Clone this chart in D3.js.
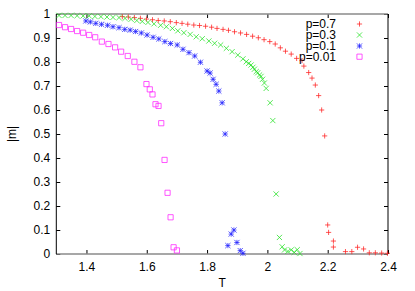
<!DOCTYPE html>
<html>
<head>
<meta charset="utf-8" />
<title>|m| vs T</title>
<style>
html, body {
  margin: 0;
  padding: 0;
  background-color: #FFFFFF;
}
svg text {
  font-family: "Liberation Sans", Arial, sans-serif;
  font-size: 12px;
}
</style>
<script src="https://d3js.org/d3.v7.min.js"></script>
</head>
<body>
<script>

// data: T, |m| for each p
var seriesNames = ["p=0.7", "p=0.3", "p=0.1", "p=0.01"];

var T_p07 = [1.519,1.539,1.559,1.579,1.599,1.619,1.638,1.658,1.678,1.698,1.717,1.736,1.756,1.775,1.795,1.815,1.833,1.853,1.871,1.891,1.911,1.931,1.951,1.970,1.989,2.008,2.026,2.043,2.060,2.079,2.097,2.115,2.121,2.137,2.148,2.159,2.170,2.180,2.190,2.200,2.203,2.219,2.219,2.259,2.280,2.299,2.319,2.338,2.358,2.379,2.398];
var m_p07 = [0.989,0.9875,0.985,0.982,0.979,0.976,0.973,0.971,0.968,0.964,0.961,0.9575,0.954,0.952,0.949,0.945,0.940,0.936,0.932,0.926,0.921,0.915,0.9075,0.901,0.893,0.885,0.875,0.859,0.845,0.833,0.815,0.806,0.783,0.756,0.733,0.704,0.660,0.600,0.492,0.121,0.090,0.054,0.029,0.010,0.010,0.028,0.021,0.005,0.005,0.004,0.003];

var T_p03 = [1.309,1.329,1.349,1.369,1.389,1.409,1.428,1.448,1.468,1.488,1.508,1.528,1.548,1.567,1.585,1.604,1.624,1.646,1.665,1.685,1.703,1.723,1.744,1.764,1.784,1.806,1.825,1.845,1.864,1.883,1.902,1.919,1.930,1.938,1.946,1.952,1.957,1.963,1.968,1.974,1.979,1.984,1.990,1.996,2.009,2.018,2.029,2.040,2.049,2.057,2.068,2.079,2.089,2.099,2.108];
var m_p03 = [0.994,0.994,0.994,0.993,0.992,0.992,0.990,0.989,0.9875,0.986,0.985,0.982,0.978,0.973,0.969,0.965,0.959,0.953,0.947,0.940,0.930,0.922,0.915,0.905,0.897,0.8875,0.878,0.871,0.857,0.843,0.829,0.813,0.801,0.794,0.7875,0.778,0.770,0.760,0.755,0.746,0.740,0.728,0.7125,0.690,0.630,0.556,0.250,0.069,0.030,0.017,0.011,0.017,0.007,0.018,0.002];

var T_p01 = [1.398,1.413,1.431,1.450,1.470,1.488,1.508,1.527,1.545,1.563,1.582,1.601,1.621,1.640,1.660,1.679,1.701,1.720,1.740,1.759,1.778,1.800,1.810,1.820,1.830,1.839,1.850,1.860,1.869,1.880,1.889,1.899,1.910,1.919];
var m_p01 = [0.971,0.967,0.961,0.957,0.953,0.947,0.943,0.936,0.933,0.927,0.921,0.9125,0.903,0.896,0.885,0.877,0.871,0.853,0.839,0.825,0.799,0.7625,0.754,0.728,0.707,0.679,0.630,0.500,0.035,0.083,0.100,0.048,0.014,0.003];

var T_p001 = [1.309,1.329,1.349,1.369,1.389,1.409,1.429,1.451,1.473,1.495,1.515,1.537,1.559,1.579,1.599,1.610,1.619,1.629,1.639,1.648,1.659,1.669,1.679,1.689,1.700];
var m_p001 = [0.954,0.945,0.9375,0.929,0.922,0.9125,0.903,0.885,0.875,0.861,0.843,0.825,0.801,0.778,0.708,0.686,0.665,0.624,0.617,0.545,0.392,0.255,0.153,0.028,0.015];

var xTicks = [1.4, 1.6, 1.8, 2.0, 2.2, 2.4];
var xTickLabels = ["1.4", "1.6", "1.8", "2", "2.2", "2.4"];
var yTicks = [0, 0.1, 0.2, 0.3, 0.4, 0.5, 0.6, 0.7, 0.8, 0.9, 1];
var yTickLabels = ["0", "0.1", "0.2", "0.3", "0.4", "0.5", "0.6", "0.7", "0.8", "0.9", "1"];

var W = 415, H = 291;
var pL = 56.3, pR = 388, pT = 14, pB = 254;

var svg = d3.select('body').append('svg')
  .attr('width', W)
  .attr('height', H);

var x = d3.scaleLinear().domain([1.3, 2.4]).range([pL, pR]);
var y = d3.scaleLinear().domain([0, 1]).range([pB, pT]);

// axes, ticks pointing inward like gnuplot
var axL = d3.axisLeft(y).tickValues(yTicks).tickSize(-4).tickPadding(6)
  .tickFormat(function(d, i) { return yTickLabels[i]; });
var axR = d3.axisRight(y).tickValues(yTicks).tickSize(-4).tickFormat("");
var axB = d3.axisBottom(x).tickValues(xTicks).tickSize(-4).tickPadding(8)
  .tickFormat(function(d, i) { return xTickLabels[i]; });
var axT = d3.axisTop(x).tickValues(xTicks).tickSize(-4).tickFormat("");

function styleAxis(g) {
  g.select('.domain').remove();
  g.selectAll('line').attr('stroke', '#000');
  g.selectAll('text').attr('fill', '#000')
    .style('font-family', '"Liberation Sans", Arial, sans-serif')
    .style('font-size', '12px');
}

svg.append('g').attr('transform', 'translate(' + pL + ',0)').call(axL).call(styleAxis);
svg.append('g').attr('transform', 'translate(' + pR + ',0)').call(axR).call(styleAxis);
svg.append('g').attr('transform', 'translate(0,' + pB + ')').call(axB).call(styleAxis);
svg.append('g').attr('transform', 'translate(0,' + pT + ')').call(axT).call(styleAxis);

// border: top/bottom look grey, left/right black
svg.append('line').attr('x1', pL).attr('x2', pR).attr('y1', pT).attr('y2', pT)
  .attr('stroke', '#8a8a8a').attr('stroke-width', 1.5);
svg.append('line').attr('x1', pL).attr('x2', pR).attr('y1', pB).attr('y2', pB)
  .attr('stroke', '#8a8a8a').attr('stroke-width', 1.5);
svg.append('line').attr('x1', pL).attr('x2', pL).attr('y1', pT).attr('y2', pB)
  .attr('stroke', '#000').attr('stroke-width', 1);
svg.append('line').attr('x1', pR).attr('x2', pR).attr('y1', pT).attr('y2', pB)
  .attr('stroke', '#000').attr('stroke-width', 1);

// point symbols
var s = 2.6;
var plusPath = 'M' + (-s) + ',0H' + s + 'M0,' + (-s) + 'V' + s;
var crossPath = 'M' + (-s) + ',' + (-s) + 'L' + s + ',' + s + 'M' + (-s) + ',' + s + 'L' + s + ',' + (-s);
var squarePath = 'M' + (-s) + ',' + (-s) + 'H' + s + 'V' + s + 'H' + (-s) + 'Z';

var series = [
  {name: seriesNames[0], T: T_p07, m: m_p07, color: '#ff2020', path: plusPath},
  {name: seriesNames[1], T: T_p03, m: m_p03, color: '#20e020', path: crossPath},
  {name: seriesNames[2], T: T_p01, m: m_p01, color: '#2020ff', path: plusPath + crossPath},
  {name: seriesNames[3], T: T_p001, m: m_p001, color: '#ff20ff', path: squarePath}
];

series.forEach(function(sr) {
  var pts = sr.T.map(function(t, i) { return [t, sr.m[i]]; });
  svg.append('g').selectAll('path').data(pts).enter().append('path')
    .attr('d', sr.path)
    .attr('transform', function(d) { return 'translate(' + x(d[0]) + ',' + y(d[1]) + ')'; })
    .attr('fill', 'none')
    .attr('stroke', sr.color)
    .attr('stroke-width', 1)
    .attr('stroke-opacity', 0.75);
});

// legend
var legY = [24, 35, 46, 56.7];
series.forEach(function(sr, i) {
  svg.append('text').attr('x', 336).attr('y', legY[i] + 4.3)
    .attr('text-anchor', 'end').attr('fill', '#000').text(sr.name);
  svg.append('path').attr('d', sr.path)
    .attr('transform', 'translate(359.5,' + legY[i] + ')')
    .attr('fill', 'none').attr('stroke', sr.color).attr('stroke-width', 1).attr('stroke-opacity', 0.75);
});

// axis titles
svg.append('text').attr('x', (pL + pR) / 2).attr('y', 287)
  .attr('text-anchor', 'middle').attr('fill', '#000').text('T');
svg.append('text').attr('transform', 'translate(15.5,134) rotate(-90)')
  .attr('text-anchor', 'middle').attr('fill', '#000').text('|m|');

</script>
</body>
</html>
